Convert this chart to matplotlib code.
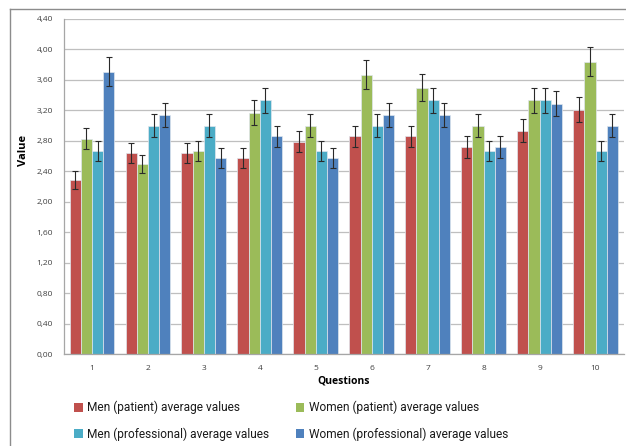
import matplotlib
matplotlib.use("Agg")
import matplotlib.pyplot as plt
from matplotlib.lines import Line2D
from matplotlib.patches import Patch
import numpy as np

questions = ["1", "2", "3", "4", "5", "6", "7", "8", "9", "10"]
series_names = ["Men (patient) average values", "Women (patient) average values",
                "Men (professional) average values", "Women (professional) average values"]
men_patient = [2.29, 2.64, 2.64, 2.57, 2.79, 2.86, 2.86, 2.72, 2.93, 3.21]
women_patient = [2.83, 2.50, 2.67, 3.17, 3.00, 3.67, 3.50, 3.00, 3.33, 3.84]
men_prof = [2.67, 3.00, 3.00, 3.33, 2.67, 3.00, 3.33, 2.67, 3.33, 2.67]
women_prof = [3.71, 3.14, 2.57, 2.86, 2.57, 3.14, 3.14, 2.72, 3.29, 3.00]
err_men_patient = [0.12, 0.13, 0.13, 0.13, 0.14, 0.14, 0.14, 0.14, 0.15, 0.165]
err_women_patient = [0.14, 0.12, 0.13, 0.16, 0.15, 0.19, 0.18, 0.15, 0.17, 0.19]
err_men_prof = [0.13, 0.15, 0.15, 0.17, 0.13, 0.15, 0.17, 0.13, 0.17, 0.13]
err_women_prof = [0.19, 0.16, 0.13, 0.14, 0.13, 0.16, 0.16, 0.14, 0.165, 0.15]
yticks = [0.0, 0.4, 0.8, 1.2, 1.6, 2.0, 2.4, 2.8, 3.2, 3.6, 4.0, 4.4]

colors = ["#C0504D", "#9BBB59", "#4BACC6", "#4F81BD"]
values = [men_patient, women_patient, men_prof, women_prof]
errors = [err_men_patient, err_women_patient, err_men_prof, err_women_prof]

plt.rcParams['font.family'] = ['Open Sans', 'DejaVu Sans']

W, H = 626, 446
fig = plt.figure(figsize=(W / 100, H / 100), dpi=100)
ax = fig.add_axes([64 / W, 1 - 354 / H, (623.5 - 64) / W, (354 - 19) / H])

x = np.arange(len(questions))
width = 0.2
offsets = [-0.3, -0.1, 0.1, 0.3]
for vals, errs, c, off, name in zip(values, errors, colors, offsets, series_names):
    ax.bar(x + off, vals, width, color=c, edgecolor='#dfe6ee', linewidth=0.5, zorder=2, label=name)
    ax.errorbar(x + off, vals, yerr=errs, fmt='none', ecolor='#2a2a2a', elinewidth=0.8,
                capsize=2, capthick=0.8, zorder=3)

ax.set_xlim(-0.5, len(questions) - 0.5)
ax.set_ylim(0, 4.4)
ax.set_yticks(yticks)
ax.set_yticklabels([f"{v:.2f}".replace('.', ',') for v in yticks], fontsize=6, color='#404040')
ax.set_xticks(x)
ax.set_xticklabels(questions, fontsize=6, color='#404040')
ax.tick_params(axis='both', length=0, pad=8)
ax.tick_params(axis='x', pad=8)
ax.yaxis.grid(True, color='#BFBFBF', linewidth=0.9, zorder=0)
ax.set_axisbelow(True)
for s in ['top', 'right']:
    ax.spines[s].set_visible(False)
for s in ['left', 'bottom']:
    ax.spines[s].set_color('#A6A6A6')
    ax.spines[s].set_linewidth(0.9)

fig.text(23 / W, 1 - 150 / H, "Value", rotation=90, fontsize=8, fontweight='bold',
         ha='center', va='center', color='#000000')
fig.text(344 / W, 1 - 381 / H, "Questions", fontsize=7.5, fontweight='bold',
         ha='center', va='center', color='#000000')

# outer chart frame (cropped at right and bottom)
fig.add_artist(Line2D([9.5 / W, 9.5 / W], [0, 1 - 8.5 / H], color='#8C8C8C', linewidth=1))
fig.add_artist(Line2D([9.5 / W, 1], [1 - 8.5 / H, 1 - 8.5 / H], color='#8C8C8C', linewidth=1))

# legend: row-wise order (matplotlib fills columns first)
order = [0, 2, 1, 3]
handles = [Patch(facecolor=colors[i], edgecolor='none') for i in order]
labels = [series_names[i] for i in order]
leg = fig.legend(handles, labels, loc='upper left', bbox_to_anchor=(74 / W, 1 - 401 / H),
                 ncol=2, frameon=False, prop={'family': 'Roboto', 'size': 8.6},
                 handlelength=0.75, handleheight=0.75,
                 handletextpad=0.35, columnspacing=2.2, labelspacing=1.1, borderaxespad=0,
                 borderpad=0)
for t in leg.get_texts():
    t.set_color('#1a1a1a')

fig.savefig("out.png", dpi=100)
